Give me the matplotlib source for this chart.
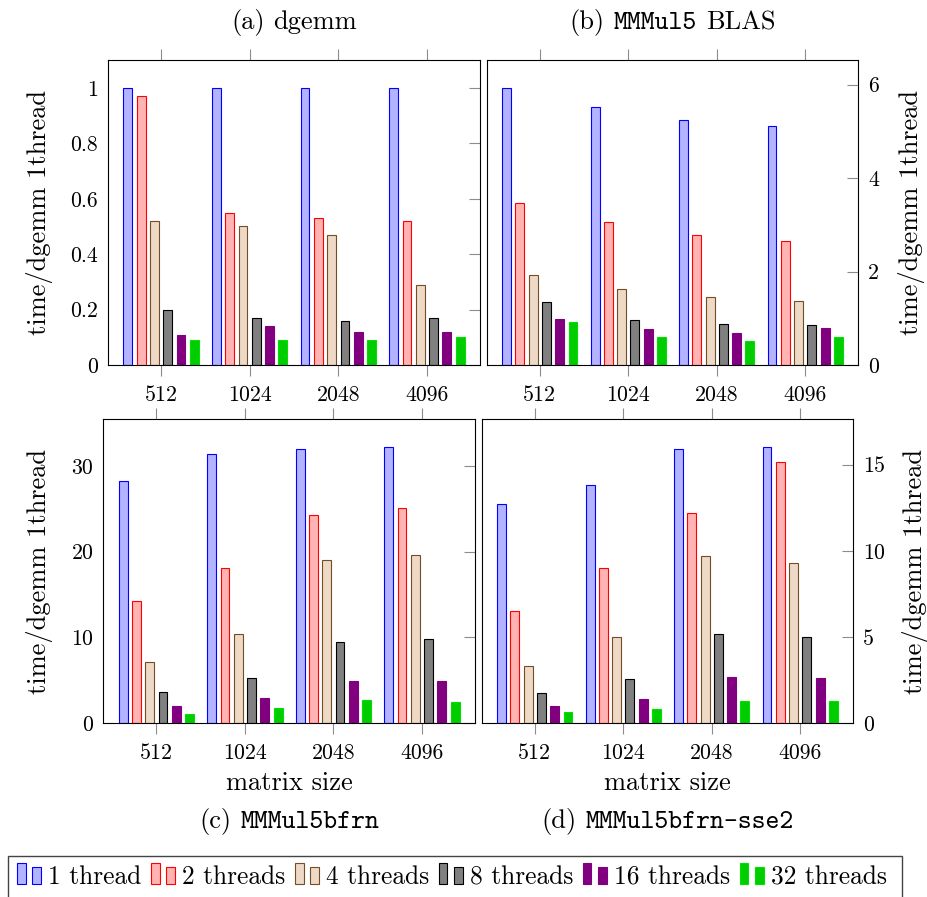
import matplotlib
matplotlib.use('Agg')
import matplotlib.pyplot as plt
from matplotlib.patches import Rectangle
from matplotlib.legend_handler import HandlerBase
from matplotlib.ticker import FuncFormatter
import numpy as np

plt.rcParams['font.family'] = ['cmr10', 'DejaVu Serif']
plt.rcParams['axes.unicode_minus'] = False
plt.rcParams['axes.formatter.use_mathtext'] = True

sizes = ['512', '1024', '2048', '4096']
threads = ['1 thread', '2 threads', '4 threads', '8 threads', '16 threads', '32 threads']

# time / dgemm 1thread, one row per thread count
dgemm = [[1.00, 1.00, 1.00, 1.00],
         [0.97, 0.55, 0.53, 0.52],
         [0.52, 0.50, 0.47, 0.29],
         [0.20, 0.17, 0.16, 0.17],
         [0.11, 0.14, 0.12, 0.12],
         [0.09, 0.09, 0.09, 0.10]]
blas = [[5.93, 5.52, 5.25, 5.12],
        [3.47, 3.07, 2.79, 2.66],
        [1.93, 1.62, 1.45, 1.38],
        [1.34, 0.96, 0.88, 0.85],
        [0.98, 0.78, 0.68, 0.79],
        [0.91, 0.59, 0.51, 0.61]]
bfrn = [[28.2, 31.4, 31.95, 32.2],
        [14.24, 18.12, 24.3, 25.1],
        [7.14, 10.36, 19.05, 19.6],
        [3.65, 5.24, 9.47, 9.78],
        [1.98, 2.95, 4.89, 4.96],
        [1.12, 1.78, 2.68, 2.52]]
sse2 = [[12.70, 13.84, 15.89, 16.03],
        [6.50, 9.01, 12.22, 15.18],
        [3.31, 5.01, 9.72, 9.28],
        [1.74, 2.57, 5.20, 5.01],
        [1.01, 1.39, 2.69, 2.61],
        [0.66, 0.81, 1.30, 1.31]]

yt_a = [0, 0.2, 0.4, 0.6, 0.8, 1]
yt_b = [0, 2, 4, 6]
yt_c = [0, 10, 20, 30]
yt_d = [0, 5, 10, 15]

fills = ['#b3b3ff', '#ffb3b3', '#edd9c6', '#808080', '#800080', '#00cc00']
edges = ['#0000ff', '#ff0000', '#734d26', '#000000', '#800080', '#00e000']

W, H = 928, 897
def fx(px):
    return px / W
def fy(py):
    return 1 - py / H

fig = plt.figure(figsize=(W / 100, H / 100), dpi=100)

# (left, top, right, bottom) in pixels, data, yticks, side of y labels
panels = [
    ((108.0, 60.3, 480.0, 365.0), dgemm, yt_a, 'left'),
    ((486.7, 60.3, 858.3, 365.0), blas, yt_b, 'right'),
    ((103.3, 419.3, 475.0, 723.3), bfrn, yt_c, 'left'),
    ((481.7, 419.3, 853.3, 723.3), sse2, yt_d, 'right'),
]

x = np.arange(len(sizes))
offs = (np.arange(len(threads)) - 2.5) * 0.15
fmt = FuncFormatter(lambda v, p: '%g' % v)
axes = []
for (l, t, r, b), vals, yt, side in panels:
    ax = fig.add_axes([fx(l), fy(b), (r - l) / W, (b - t) / H])
    for j in range(len(threads)):
        ax.bar(x + offs[j], vals[j], width=0.1, color=fills[j],
               edgecolor=edges[j], linewidth=0.8, label=threads[j])
    ax.set_xlim(-0.6, 3.6)
    ax.set_ylim(0, 1.1 * np.max(vals))
    ax.set_xticks(x, sizes)
    ax.set_yticks(yt)
    ax.yaxis.set_major_formatter(fmt)
    ax.tick_params(axis='x', direction='out', length=8, width=0.8,
                   color='#8c8c8c', top=True, bottom=True,
                   labelsize=15.7, pad=6.5)
    ax.tick_params(axis='y', direction='in', length=8, width=0.8,
                   color='#8c8c8c', left=False, right=True,
                   labelleft=(side == 'left'), labelright=(side == 'right'),
                   labelsize=15.7, pad=7.2)
    for s in ax.spines.values():
        s.set_linewidth(0.8)
    axes.append(ax)

# axis labels
for cx, cy in [(40, 212.6), (911.8, 212.6), (40, 571.3), (915.5, 571.3)]:
    fig.text(fx(cx), fy(cy), 'time/dgemm 1thread', rotation=90,
             ha='center', va='center', size=19)
for cx in [289.2, 667.5]:
    fig.text(fx(cx), fy(783), 'matrix size', ha='center', va='center', size=19)

# captions mixing roman and typewriter
rend = fig.canvas.get_renderer()
def caption(parts, cx, base, size=19):
    arts = [fig.text(0, fy(base), s, family=fam, size=size,
                     ha='left', va='baseline') for s, fam in parts]
    ws = [a.get_window_extent(rend).width for a in arts]
    gap = 0.333 * size * fig.dpi / 72
    pos = cx - (sum(ws) + gap * (len(arts) - 1)) / 2
    for a, w in zip(arts, ws):
        a.set_x(fx(pos))
        pos += w + gap

rm, tt = 'cmr10', 'cmtt10'
caption([('(a)', rm), ('dgemm', rm)], 294.0, 29.3)
caption([('(b)', rm), ('MMMul5', tt), ('BLAS', rm)], 672.5, 29.3)
caption([('(c)', rm), ('MMMul5bfrn', tt)], 289.2, 828.3)
caption([('(d)', rm), ('MMMul5bfrn-sse2', tt)], 667.5, 828.3)


class TwoBars(HandlerBase):
    def create_artists(self, legend, orig_handle, xdescent, ydescent,
                       width, height, fontsize, trans):
        fc = orig_handle.get_facecolor()
        ec = orig_handle.get_edgecolor()
        w = width * 0.36
        r1 = Rectangle((-xdescent, -ydescent), w, height * 1.18,
                       facecolor=fc, edgecolor=ec, lw=0.8, transform=trans)
        r2 = Rectangle((-xdescent + width - w, -ydescent), w, height * 0.96,
                       facecolor=fc, edgecolor=ec, lw=0.8, transform=trans)
        return [r1, r2]


handles = [c[0] for c in axes[0].containers]
fig.legend(handles, threads, handler_map={Rectangle: TwoBars()}, ncol=6,
           loc='center left', bbox_to_anchor=(fx(17), fy(877.6)),
           frameon=False, fontsize=18.3, handlelength=0.95,
           handletextpad=0.28, columnspacing=0.37, borderpad=0,
           borderaxespad=0)
fig.add_artist(Rectangle((fx(8), fy(920)), (902 - 8) / W, (920 - 855.7) / H,
                         transform=fig.transFigure, fill=False,
                         edgecolor='#444444', lw=1.0, clip_on=False))

fig.savefig('out.png', dpi=100)
